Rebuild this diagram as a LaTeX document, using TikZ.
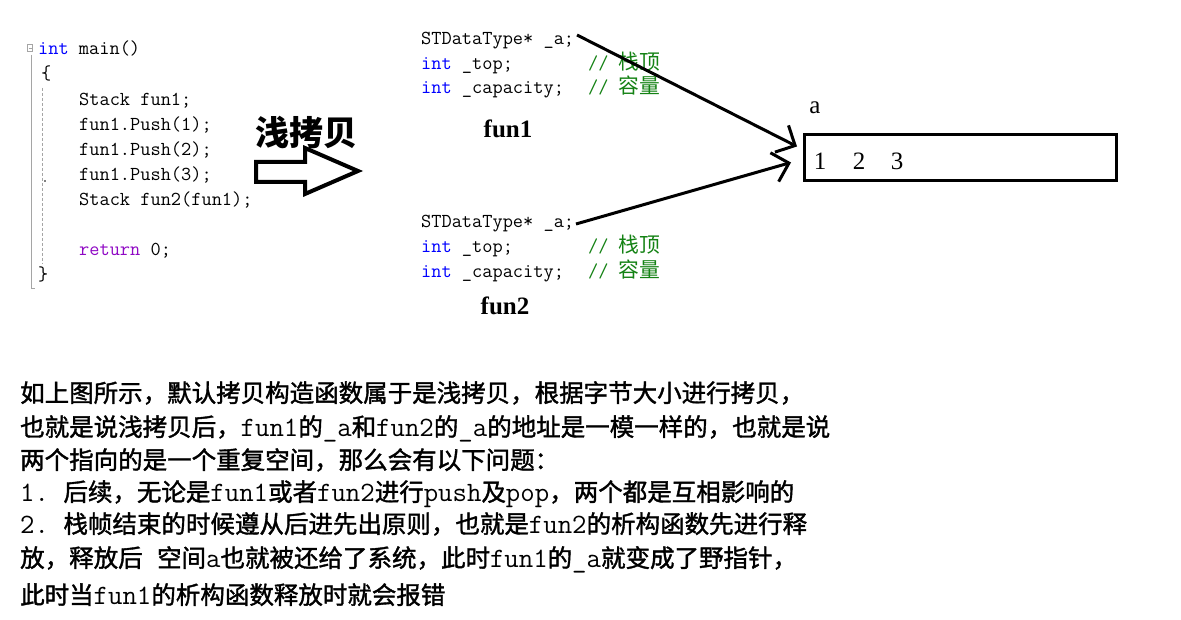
\documentclass[tikz,border=0pt]{standalone}
\usepackage{fontspec}
\usetikzlibrary{arrows.meta}
\newfontfamily\cjk{Noto Sans CJK SC}
\newfontfamily\cjkp{Noto Sans CJK SC}[FakeBold=1.5]
\newfontfamily\lserif{Liberation Serif}
\frenchspacing
\definecolor{kwblue}{RGB}{0,0,255}
\definecolor{kwpurple}{RGB}{143,8,196}
\definecolor{cmgreen}{RGB}{20,130,20}
\definecolor{guidegray}{RGB}{165,165,165}
\newcommand\hw[1]{{\ttfamily\fontsize{28}{28}\selectfont\addfontfeature{FakeStretch=0.83,FakeBold=1.5}\relax #1}}
\newcommand\cm[1]{{\color{cmgreen}{\ttfamily //} {\cjk\fontsize{20.8}{21}\selectfont #1}}}
\newcommand\kw[1]{{\color{kwblue}#1}}
\tikzset{
  code/.style={anchor=base west,inner sep=0pt,font=\ttfamily\fontsize{19.8}{20}\selectfont},
  prose/.style={anchor=base west,inner sep=0pt,font=\cjkp\fontsize{24.5}{25}\selectfont},
  lbl/.style={anchor=base,inner sep=0pt,font=\lserif\bfseries\fontsize{25}{25}\selectfont},
  digit/.style={anchor=base,inner sep=0pt,font=\lserif\fontsize{25}{25}\selectfont},
  ptr/.style={line width=3pt,-{Straight Barb[length=15pt,width=30pt,line width=3pt]}},
}
\begin{document}
\begin{tikzpicture}[x=1pt,y=-1pt]
\useasboundingbox[fill=white] (0,0) rectangle (1181,620);
% left code guides
\draw[guidegray,line width=1pt] (31,55) -- (31,289) -- (35,289);
\draw[guidegray,line width=0.8pt,dash pattern=on 3pt off 2pt] (42,88) -- (42,264);
\draw[guidegray,line width=0.7pt] (27.5,44.5) rectangle (32.5,51.5);
\draw[guidegray,line width=0.7pt] (28.5,48) -- (31.5,48);
\fill[black] (45,181) circle (0.9pt);
% left code
\node[code] (m1) at (38,55) {\kw{int} main()};
\node[code] (m2) at (41,80) {\{};
\node[code] (m3) at (79,106) {Stack fun1;};
\node[code] (m4) at (79,131) {fun1.Push(1);};
\node[code] (m5) at (79,156) {fun1.Push(2);};
\node[code] (m6) at (79,181) {fun1.Push(3);};
\node[code] (m7) at (79,206) {Stack fun2(fun1);};
\node[code] (m8) at (79,256) {{\color{kwpurple}return} 0;};
\node[code] (m9) at (38,281) {\}};
% big hollow arrow
\node[anchor=center,inner sep=0pt,font=\cjk\bfseries\fontsize{34}{34}\selectfont] (title) at (306,132) {浅拷贝};
\draw[line width=4pt,line join=miter] (256,162) -- (305,162) -- (305,148) -- (358,171) -- (305,194) -- (305,182) -- (256,182) -- cycle;
% fun1 struct
\node[code] (a1) at (421,45) {STDataType* \_a;};
\node[code] (t1) at (421,70) {\kw{int} \_top;};
\node[code] (c1) at (421,94) {\kw{int} \_capacity;};
\node[code] (t1c) at (588,70) {\cm{栈顶}};
\node[code] (c1c) at (588,94) {\cm{容量}};
\node[lbl] (f1) at (508,138) {fun1};
% fun2 struct
\node[code] (a2) at (421,228) {STDataType* \_a;};
\node[code] (t2) at (421,253) {\kw{int} \_top;};
\node[code] (c2) at (421,278) {\kw{int} \_capacity;};
\node[code] (t2c) at (588,253) {\cm{栈顶}};
\node[code] (c2c) at (588,278) {\cm{容量}};
\node[lbl] (f2) at (505,315) {fun2};
% array box
\node[draw,line width=3pt,minimum width=312pt,minimum height=46pt,inner sep=0pt,anchor=north west] (arr) at (803,133) {};
\node[digit] (alab) at (815,114) {a};
\node[digit] (d1) at (820,170) {1};
\node[digit] (d2) at (859,170) {2};
\node[digit] (d3) at (897,170) {3};
% pointers
\coordinate (p1) at (577,35);
\coordinate (p2) at (576,224);
\coordinate (tip1) at ([shift={(-6,-11)}]arr.west);
\coordinate (tip2) at ([shift={(-12,5)}]arr.west);
\draw[ptr] (p1) -- (tip1);
\draw[ptr] (p2) -- (tip2);
% explanation
\node[prose] (l1) at (20,402) {如上图所示，默认拷贝构造函数属于是浅拷贝，根据字节大小进行拷贝，};
\node[prose] (l2) at (20,436) {也就是说浅拷贝后，\hw{fun1}的\hw{\_a}和\hw{fun2}的\hw{\_a}的地址是一模一样的，也就是说};
\node[prose] (l3) at (20,469) {两个指向的是一个重复空间，那么会有以下问题：};
\node[prose] (l4) at (20,501) {\hw{1. }后续，无论是\hw{fun1}或者\hw{fun2}进行\hw{push}及\hw{pop}，两个都是互相影响的};
\node[prose] (l5) at (20,533) {\hw{2. }栈帧结束的时候遵从后进先出原则，也就是\hw{fun2}的析构函数先进行释};
\node[prose] (l6) at (20,567) {放，释放后\hw{ }空间\hw{a}也就被还给了系统，此时\hw{fun1}的\hw{\_a}就变成了野指针，};
\node[prose] (l7) at (20,604) {此时当\hw{fun1}的析构函数释放时就会报错};
\end{tikzpicture}
\end{document}
